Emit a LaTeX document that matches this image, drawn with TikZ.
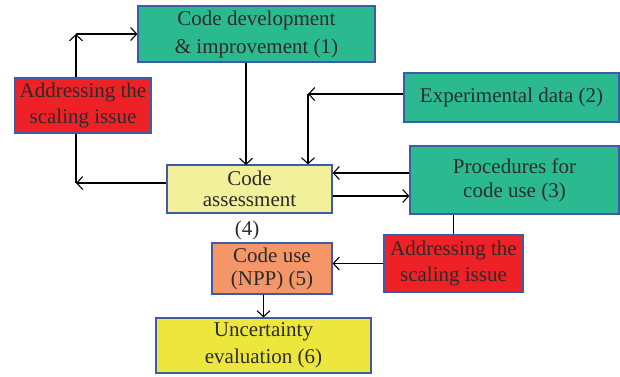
\documentclass[tikz,border=0pt]{standalone}
\usepackage{fontspec}
\setmainfont{Liberation Serif}
\usepackage{tikz}
\usetikzlibrary{arrows.meta}
\definecolor{teal1}{HTML}{2BBA8F}
\definecolor{red1}{HTML}{EE2226}
\definecolor{pale1}{HTML}{F3F09C}
\definecolor{orange1}{HTML}{F59668}
\definecolor{yellow1}{HTML}{EDE63C}
\definecolor{edge1}{HTML}{3E5BAA}
\definecolor{ink1}{HTML}{2B2B2B}
\tikzset{
	box/.style={draw=edge1, line width=1.2pt, inner sep=0pt, align=center, text=ink1,
		font=\fontsize{21}{27}\selectfont},
	lines/.style={font=\fontsize{21}{#1}\selectfont},
	arr/.style={line width=1.1pt, -{Straight Barb[length=6pt,width=13pt]}},
	lin/.style={line width=1.1pt}
}
\begin{document}
\begin{tikzpicture}[x=1pt,y=-1pt]
					\useasboundingbox (0,0) rectangle (620,376);
					\node[box, lines=28, fill=teal1, minimum width=237pt, minimum height=56pt] (dev) at (256.5,34) {Code development\\\& improvement (1)};
					\node[box, lines=26, fill=red1, minimum width=136pt, minimum height=55pt] (scaleL) at (83,105.5) {Addressing the\\scaling issue};
					\node[box, fill=teal1, minimum width=215pt, minimum height=49pt] (exp) at (511.5,97.5) {Experimental data (2)};
					\node[box, lines=21, fill=pale1, minimum width=165pt, minimum height=48pt] (assess) at (249.5,189) {Code\\assessment};
					\node[text=ink1, font=\fontsize{21}{27}\selectfont] (four) at (247,230) {(4)};
					\node[box, lines=24, fill=teal1, minimum width=209pt, minimum height=68pt] (proc) at (514.5,180) {Procedures for\\code use (3)};
					\node[box, lines=26, fill=red1, minimum width=139pt, minimum height=57pt] (scaleR) at (453.5,263.5) {Addressing the\\scaling issue};
					\node[box, lines=23, fill=orange1, minimum width=120pt, minimum height=51pt] (use) at (272,268.5) {Code use\\(NPP) (5)};
					\node[box, lines=27, fill=yellow1, minimum width=215pt, minimum height=55pt] (unc) at (263.5,345.5) {Uncertainty\\evaluation (6)};
					\coordinate (up) at (76,34);
					\coordinate (down) at (76,183);
					\coordinate (expc) at (308,94);
					\coordinate (mid) at (246,165);
					\draw[arr] (scaleL.north -| up) -- (up);
					\draw[arr] (up) -- (dev.west);
					\draw[lin] (scaleL.south -| down) -- (down);
					\draw[arr] (down -| assess.west) -- (down);
					\draw[arr] (dev.south -| mid) -- (mid);
					\draw[arr] (expc -| exp.west) -- (expc);
					\draw[arr] (expc) -- (expc |- assess.north);
					\draw[arr] ([yshift=7pt]proc.west) -- ([yshift=7pt]proc.west -| assess.east);
					\draw[arr] ([yshift=-16pt]proc.west -| assess.east) -- ([yshift=-16pt]proc.west);
					\draw[lin] (proc.south -| scaleR.north) -- (scaleR.north);
					\draw[arr] (scaleR.west) -- (scaleR.west -| use.east);
					\draw[arr] (use.south -| unc.north) -- (unc.north);
				\end{tikzpicture}
\end{document}
